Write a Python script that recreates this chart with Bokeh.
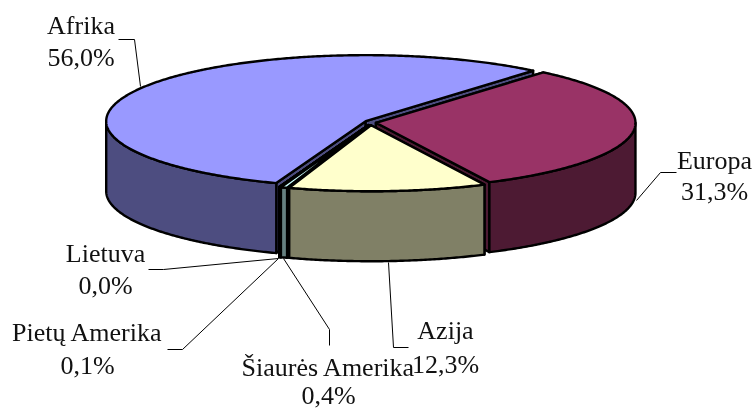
import numpy as np
from bokeh.plotting import figure
from bokeh.embed import file_html
from bokeh.resources import INLINE
from bokeh.core.properties import value
from bokeh.models import Range1d

names = ["Europa", "Azija", "Šiaurės Amerika", "Pietų Amerika", "Lietuva", "Afrika"]
shares = [31.3, 12.3, 0.4, 0.1, 0.0, 56.0]
top_colors = ["#993366", "#FFFFCC", "#CCFFFF", "#660066", "#FF8080", "#9999FF"]
side_colors = ["#4D1A33", "#808066", "#668080", "#330033", "#804040", "#4D4D80"]
paint_order = [5, 4, 3, 2, 0, 1]

# pie layout in pixels of the page
CX, CY, RX, RY, DEPTH, EXPLODE, START = 370.0, 122.0, 259.5, 66.0, 70.0, 5.5, 50.0

# label centres, one per line, and leader polylines (page pixels)
label_pos = {
    "Europa": (714, 160, 191), "Azija": (445, 330, 364), "Šiaurės Amerika": (328, 367, 395),
    "Pietų Amerika": (87, 332, 365), "Lietuva": (105, 253, 285), "Afrika": (80.5, 25, 57),
}
leaders = [
    [(118, 39), (134, 39), (140, 86)],
    [(676, 172), (660, 172), (636, 200)],
    [(408, 347), (393, 347), (388, 262)],
    [(329, 345), (329, 329), (283, 258)],
    [(167, 349), (182, 349), (278, 258)],
    [(148, 269), (163, 269), (278, 258)],
]

W, H = 754, 410
p = figure(width=W, height=H, output_backend="svg", toolbar_location=None,
           x_range=Range1d(0, W), y_range=Range1d(H, 0), min_border=0,
           outline_line_color=None, background_fill_color="white", border_fill_color="white",
           x_axis_location=None, y_axis_location=None)
p.grid.visible = False
p.styles = {"position": "fixed", "left": "0px", "top": "0px"}


def warp(t):
    return t - 0.8 * (1 - np.sin(np.radians(t)))


def rim(cx, cy, t):
    r = np.radians(t)
    return cx + RX * np.cos(r), cy - RY * np.sin(r)


total = sum(shares)
ends, a = [], START
for s in shares:
    b = a - s / total * 360
    ends.append((a, b))
    a = b


def draw(xs, ys, color):
    p.patch(list(xs), list(ys), fill_color=color, line_color="black", line_width=2.4, line_join="round")


for i in paint_order:
    a, b = ends[i]
    mid = np.radians((a + b) / 2)
    cx = CX + EXPLODE * np.cos(mid)
    cy = CY - 0.5 * EXPLODE * np.sin(mid)
    ts = warp(np.linspace(a, b, max(3, int(abs(a - b) * 2))))
    x, y = rim(cx, cy, ts)
    for j in (0, -1):
        draw([cx, x[j], x[j], cx], [cy, y[j], y[j] + DEPTH, cy + DEPTH], side_colors[i])
    vis = np.sin(np.radians(ts)) <= 0
    if vis.any():
        xv, yv = x[vis], y[vis]
        draw(np.r_[xv, xv[::-1]], np.r_[yv, yv[::-1] + DEPTH], side_colors[i])
    draw(np.r_[cx, x], np.r_[cy, y], top_colors[i])

for line in leaders:
    xs, ys = zip(*line)
    p.line(list(xs), list(ys), line_color="black", line_width=1)

for name, share in zip(names, shares):
    cx_, y1, y2 = label_pos[name]
    pct = f"{share:.1f}".replace(".", ",") + "%"
    p.text([cx_, cx_], [y1, y2], text=[name, pct], text_align="center", text_baseline="middle",
           text_font=value("Liberation Serif"), text_font_size=value("26px"), text_color="#111111")

open("out.html", "w").write(file_html(p, INLINE))
